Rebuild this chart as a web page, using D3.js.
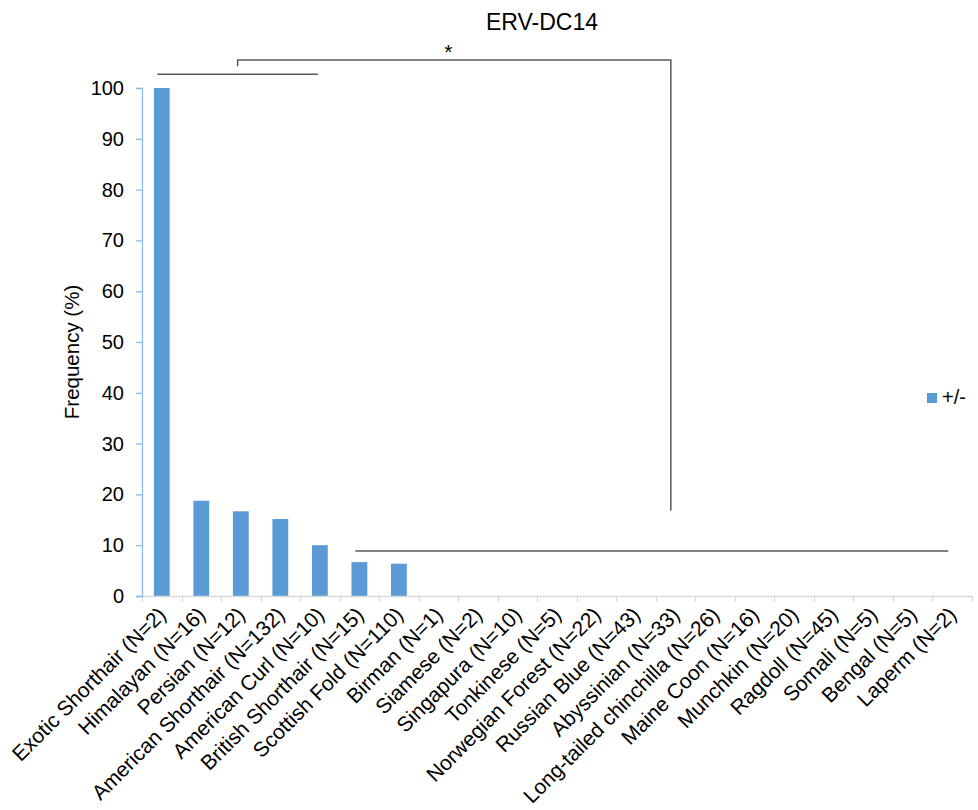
<!DOCTYPE html>
<html>
<head>
<meta charset="utf-8">
<script src="https://cdn.jsdelivr.net/npm/d3@7"></script>
<style>
  body { margin: 0; background: #fff; }
  text { font-family: "Liberation Sans", Arial, sans-serif; fill: #000; }
</style>
</head>
<body>
<div id="chart"></div>
<script>
// ---- data ----
var breeds = ["Exotic Shorthair", "Himalayan", "Persian", "American Shorthair", "American Curl",
  "British Shorthair", "Scottish Fold", "Birman", "Siamese", "Singapura", "Tonkinese",
  "Norwegian Forest", "Russian Blue", "Abyssinian", "Long-tailed chinchilla", "Maine Coon",
  "Munchkin", "Ragdoll", "Somali", "Bengal", "Laperm"]
var counts = [2, 16, 12, 132, 10, 15, 110, 1, 2, 10, 5, 22, 43, 33, 26, 16, 20, 45, 5, 5, 2]
var frequency = [100, 18.75, 16.67, 15.15, 10, 6.67, 6.36, 0, 0, 0, 0, 0, 0, 0, 0, 0, 0, 0, 0, 0, 0]
var yTicks = [0, 10, 20, 30, 40, 50, 60, 70, 80, 90, 100]
var seriesName = "+/-"

// significance brackets, in category units (x) and % units (y)
var bracketLine = [[0.39, 102.7], [4.45, 102.7]]
var bracketStar = [[2.42, 104.3], [2.42, 105.5], [13.38, 105.5], [13.38, 16.8]]
var bracketLow = [[5.4, 8.86], [20.4, 8.86]]
var starAt = [7.75, 105.5]

// ---- layout ----
var totalWidth = 978, totalHeight = 810
var margin = {top: 88, right: 6, bottom: 214, left: 142}
var width = totalWidth - margin.left - margin.right
var height = totalHeight - margin.top - margin.bottom

var svg = d3.select("#chart").append("svg")
  .attr("width", totalWidth)
  .attr("height", totalHeight)

var g = svg.append("g")
  .attr("transform", "translate(" + margin.left + "," + margin.top + ")")

var labels = breeds.map((b, i) => b + " (N=" + counts[i] + ")")

var x = d3.scaleBand()
  .domain(labels)
  .range([0, width])
  .paddingInner(0.6)
  .paddingOuter(0.3)

var xi = d3.scaleLinear()
  .domain([0, labels.length])
  .range([0, width])

var y = d3.scaleLinear()
  .domain([0, 100])
  .range([height, 0])

// bars
g.selectAll("rect.bar").data(frequency)
  .enter().append("rect")
    .attr("class", "bar")
    .attr("x", (d, i) => x(labels[i]))
    .attr("y", d => y(d))
    .attr("width", x.bandwidth())
    .attr("height", d => height - y(d))
    .attr("fill", "#5b9bd5")

// x axis: line with boundary ticks
g.append("line")
  .attr("x1", 0).attr("x2", width)
  .attr("y1", height + 0.5).attr("y2", height + 0.5)
  .attr("stroke", "#d9d9d9").attr("stroke-width", 1.3)

g.selectAll("line.xtick").data(d3.range(labels.length + 1))
  .enter().append("line")
    .attr("class", "xtick")
    .attr("x1", d => Math.round(xi(d)) + 0.5).attr("x2", d => Math.round(xi(d)) + 0.5)
    .attr("y1", height).attr("y2", height + 6)
    .attr("stroke", "#d9d9d9").attr("stroke-width", 1.3)

g.selectAll("text.xlab").data(labels)
  .enter().append("text")
    .attr("class", "xlab")
    .attr("text-anchor", "end")
    .attr("font-size", "21px")
    .attr("transform", d => "translate(" + (x(d) + x.bandwidth() / 2 + 5.5) + "," + (height + 20) + ") rotate(-45)")
    .text(d => d)

// y axis
var yAxis = g.append("g")
  .call(d3.axisLeft(y).tickValues(yTicks).tickSize(6).tickPadding(12))

yAxis.select(".domain").attr("stroke", "#8fb8e6").attr("stroke-width", 1.3)
yAxis.selectAll(".tick line").attr("stroke", "#8fb8e6").attr("stroke-width", 1.3)
yAxis.selectAll(".tick text")
  .attr("font-size", "20px")
  .attr("font-family", "Liberation Sans, Arial, sans-serif")
  .attr("fill", "#000")

svg.append("text")
  .attr("transform", "translate(79,352) rotate(-90)")
  .attr("text-anchor", "middle")
  .attr("font-size", "20.5px")
  .text("Frequency (%)")

// title
svg.append("text")
  .attr("x", 542).attr("y", 30)
  .attr("text-anchor", "middle")
  .attr("font-size", "23px")
  .text("ERV-DC14")

// brackets
var line = d3.line()
  .x(d => xi(d[0]))
  .y(d => y(d[1]))

g.selectAll("path.bracket").data([bracketLine, bracketStar, bracketLow])
  .enter().append("path")
    .attr("class", "bracket")
    .attr("d", line)
    .attr("fill", "none")
    .attr("stroke", "#595959")
    .attr("stroke-width", 1.5)

g.append("text")
  .attr("x", xi(starAt[0]))
  .attr("y", y(starAt[1]) - 1)
  .attr("text-anchor", "middle")
  .attr("font-size", "21px")
  .text("*")

// legend
var legend = svg.append("g")
  .attr("transform", "translate(927,393)")
legend.append("rect")
  .attr("width", 10).attr("height", 10)
  .attr("fill", "#5b9bd5")
legend.append("text")
  .attr("x", 15).attr("y", 11)
  .attr("font-size", "20px")
  .text(seriesName)
</script>
</body>
</html>
